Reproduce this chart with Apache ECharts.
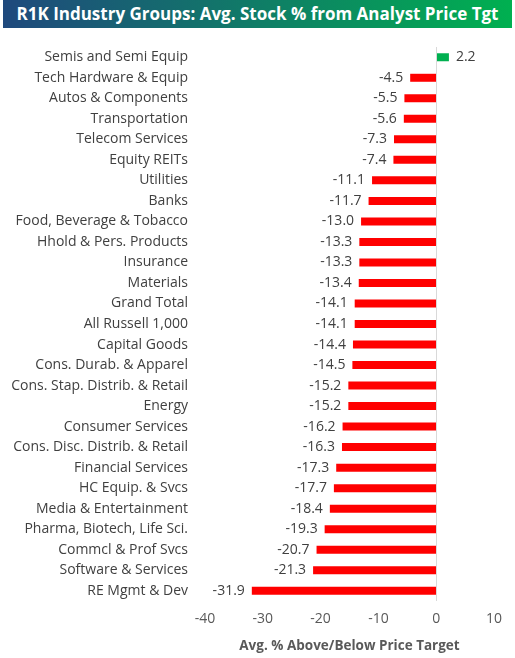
<!DOCTYPE html>
<html>
<head>
<meta charset="utf-8">
<script src="https://cdn.jsdelivr.net/npm/echarts@6/dist/echarts.min.js"></script>
<style>
html, body { margin: 0; padding: 0; background: #fff; }
#title {
	position: absolute; left: 3px; top: 0; width: 509px; height: 28px;
	background: linear-gradient(to right, #1f497d, #00b050);
	color: #fff; font: bold 17px "Open Sans", sans-serif;
	line-height: 28px; text-align: center;
}
#chart { position: absolute; left: 0; top: 0; width: 515px; height: 658px; }
</style>
</head>
<body>
<div id="chart"></div>
<div id="title">R1K Industry Groups: Avg. Stock % from Analyst Price Tgt</div>
<script>
// categories top to bottom
var groups = ['Semis and Semi Equip', 'Tech Hardware & Equip', 'Autos & Components', 'Transportation',
	'Telecom Services', 'Equity REITs', 'Utilities', 'Banks', 'Food, Beverage & Tobacco',
	'Hhold & Pers. Products', 'Insurance', 'Materials', 'Grand Total', 'All Russell 1,000',
	'Capital Goods', 'Cons. Durab. & Apparel', 'Cons. Stap. Distrib. & Retail', 'Energy',
	'Consumer Services', 'Cons. Disc. Distrib. & Retail', 'Financial Services', 'HC Equip. & Svcs',
	'Media & Entertainment', 'Pharma, Biotech, Life Sci.', 'Commcl & Prof Svcs',
	'Software & Services', 'RE Mgmt & Dev'];
var values = [2.2, -4.5, -5.5, -5.6, -7.3, -7.4, -11.1, -11.7, -13.0, -13.3, -13.3, -13.4, -14.1, -14.1,
	-14.4, -14.5, -15.2, -15.2, -16.2, -16.3, -17.3, -17.7, -18.4, -19.3, -20.7, -21.3, -31.9];

var chart = echarts.init(document.getElementById('chart'));
var font = '"Open Sans", sans-serif';

var data = values.map(function(v) {
	return {
		value: v,
		itemStyle: { color: v >= 0 ? '#00b050' : '#ff0000' },
		label: { position: v >= 0 ? 'right' : 'left' }
	};
});

chart.setOption({
	animation: false,
	grid: { left: 205, right: 21, top: 47, bottom: 53, containLabel: false },
	xAxis: {
		type: 'value', min: -40, max: 10, interval: 10,
		axisLine: { show: false }, axisTick: { show: false }, splitLine: { show: false },
		axisLabel: { color: '#595959', fontSize: 14, fontFamily: font, margin: 11 },
		name: 'Avg. % Above/Below Price Target', nameLocation: 'middle', nameGap: 38,
		nameTextStyle: { color: '#595959', fontSize: 13.5, fontWeight: 'bold', fontFamily: font }
	},
	yAxis: {
		type: 'category', data: groups, inverse: true,
		axisLine: { show: false }, axisTick: { show: false },
		axisLabel: { color: '#404040', fontSize: 14, fontFamily: font, margin: 17 }
	},
	series: [{
		type: 'bar', data: data, barWidth: 8,
		label: {
			show: true, color: '#404040', fontSize: 14, fontFamily: font, distance: 7,
			formatter: function(p) { return p.value.toFixed(1); }
		},
		markLine: {
			silent: true, symbol: 'none', label: { show: false },
			lineStyle: { color: '#d9d9d9', width: 1, type: 'solid' },
			data: [{ xAxis: 0 }]
		}
	}]
});
</script>
</body>
</html>
